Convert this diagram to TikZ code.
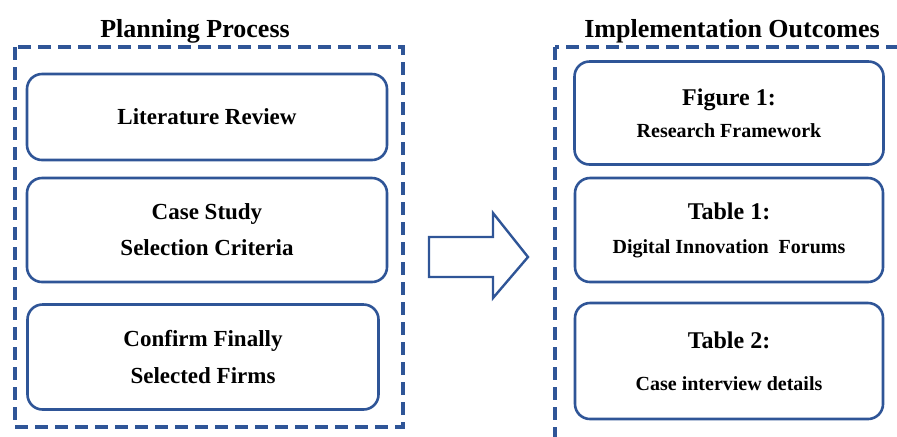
\documentclass[tikz,border=0pt]{standalone}
\usepackage{fontspec}
\setmainfont{Liberation Serif}
\usepackage{xcolor}
\usetikzlibrary{positioning}
\definecolor{frameblue}{HTML}{2F5597}

\tikzset{
  panel/.style={draw=frameblue, line width=1.6pt, dash pattern=on 6.5pt off 3.5pt},
  stage/.style={draw=frameblue, line width=1.3pt, rounded corners=7.5pt, align=center,
    font=\fontsize{11.5}{14}\selectfont\bfseries},
  heading/.style={anchor=base, font=\fontsize{13}{15}\selectfont\bfseries},
}
\newcommand{\bigline}[1]{{\fontsize{12}{14}\selectfont #1}}
\newcommand{\smallline}[1]{{\fontsize{10}{12}\selectfont #1}}

\begin{document}
\begin{tikzpicture}[x=0.5pt,y=-0.5pt]
  \clip (0,0) rectangle (897,436);
  % the two dashed panels and their titles
  \draw[panel] (15,47) rectangle (403,427);
  \draw[panel] (555,47) rectangle (912,452);
  \node[heading] (plan) at (195,37) {Planning Process};
  \node[heading] (impl) at (732,37) {Implementation Outcomes};

  % planning steps
  \node[stage, minimum width=180pt, minimum height=43pt] (lit) at (207,117) {Literature Review};
  \node[stage, minimum width=180pt, minimum height=52pt] (crit) at (207,230)
    {Case Study\\[4pt] Selection Criteria};
  \node[stage, minimum width=175.5pt, minimum height=52.5pt] (firms) at (203,357)
    {Confirm Finally\\[4pt] Selected Firms};

  % outcomes
  \node[stage, minimum width=154.5pt, minimum height=51.5pt] (fig1) at (729,113)
    {\bigline{Figure 1:}\\[2pt] \smallline{Research Framework}};
  \node[stage, minimum width=154pt, minimum height=52pt] (tab1) at (729,230)
    {\bigline{Table 1:}\\[3pt] \smallline{Digital Innovation\ \ Forums}};
  \node[stage, minimum width=154pt, minimum height=58pt] (tab2) at (729,361)
    {\bigline{Table 2:}\\[7pt] \smallline{Case interview details}};

  % block arrow between the panels
  \draw[frameblue, line width=1.2pt, line join=miter]
    (429,237) -- (493,237) -- (493,213) -- (528,257) -- (493,298) -- (493,277) -- (429,277) -- cycle;
\end{tikzpicture}
\end{document}
